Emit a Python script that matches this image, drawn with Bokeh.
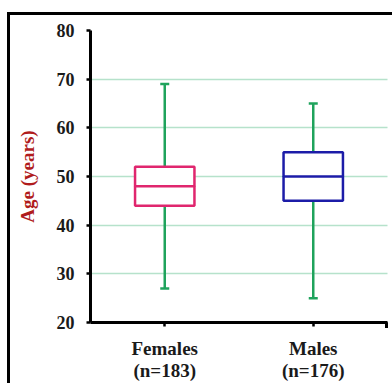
from bokeh.plotting import figure
from bokeh.models import ColumnDataSource, FactorRange, FixedTicker
from bokeh.embed import file_html
from bokeh.resources import INLINE

# data
groups = ["Females\n(n=183)", "Males\n(n=176)"]
mins = [27, 25]
q1s = [44, 45]
medians = [48, 50]
q3s = [52, 55]
maxs = [69, 65]
box_colors = ["#e0266e", "#1c1ca8"]
y_ticks = [20, 30, 40, 50, 60, 70, 80]

src = ColumnDataSource(dict(g=groups, lo=mins, q1=q1s, med=medians, q3=q3s, hi=maxs, c=box_colors))

p = figure(width=392, height=383, x_range=FactorRange(*groups, range_padding=0),
           y_range=(20, 80), output_backend="svg", toolbar_location=None,
           min_border_left=90, min_border_right=5, min_border_top=30, min_border_bottom=60)
p.outline_line_color = None
p.background_fill_color = "white"
p.border_fill_alpha = 0
p.styles = {
    "background": "linear-gradient(#000,#000) 7px 12px / 3px 100% no-repeat, "
                  "linear-gradient(#000,#000) 7px 12px / 100% 3px no-repeat, "
                  "linear-gradient(#000,#000) 385px 322px / 3px 6px no-repeat, white",
}

serif = "Liberation Serif"
green = "#1fa35c"

# grid
p.xgrid.grid_line_color = None
p.ygrid.ticker = FixedTicker(ticks=y_ticks)
p.ygrid.grid_line_color = "#6cc497"
p.ygrid.grid_line_dash = "1 1"
p.ygrid.grid_line_width = 1.5

# whiskers
p.segment(x0="g", y0="q3", x1="g", y1="hi", source=src, line_color=green, line_width=2.5)
p.segment(x0="g", y0="lo", x1="g", y1="q1", source=src, line_color=green, line_width=2.5)
p.scatter(x="g", y="hi", source=src, marker="dash", size=9, line_color=green, line_width=2.5)
p.scatter(x="g", y="lo", source=src, marker="dash", size=9, line_color=green, line_width=2.5)

# boxes
p.vbar(x="g", width=0.4, bottom="q1", top="q3", source=src, fill_color="white",
       line_color="c", line_width=2.5)
p.rect(x="g", y="med", width=0.4, height=0.001, source=src, fill_alpha=0,
       line_color="c", line_width=2.5)

# axes
p.yaxis.ticker = FixedTicker(ticks=y_ticks)
for ax in (p.xaxis[0], p.yaxis[0]):
    ax.axis_line_width = 3
    ax.axis_line_color = "black"
    ax.major_tick_line_width = 2.5
    ax.major_tick_line_color = "black"
    ax.major_tick_in = 0
    ax.major_tick_out = 4
    ax.minor_tick_line_color = None
    ax.major_label_text_font = serif
    ax.major_label_text_font_style = "bold"
    ax.major_label_text_color = "#1a1a1a"

p.yaxis.major_label_text_font_size = "18px"
p.yaxis.major_label_standoff = 12
p.yaxis.axis_label = "Age (years)"
p.yaxis.axis_label_text_font = serif
p.yaxis.axis_label_text_font_style = "bold"
p.yaxis.axis_label_text_font_size = "19px"
p.yaxis.axis_label_text_color = "#b01c1c"
p.yaxis.axis_label_standoff = 16

p.xaxis.major_label_text_font_size = "19px"
p.xaxis.major_label_standoff = 11
p.xaxis.major_label_text_line_height = 1.05

open("out.html", "w").write(file_html(p, INLINE))
